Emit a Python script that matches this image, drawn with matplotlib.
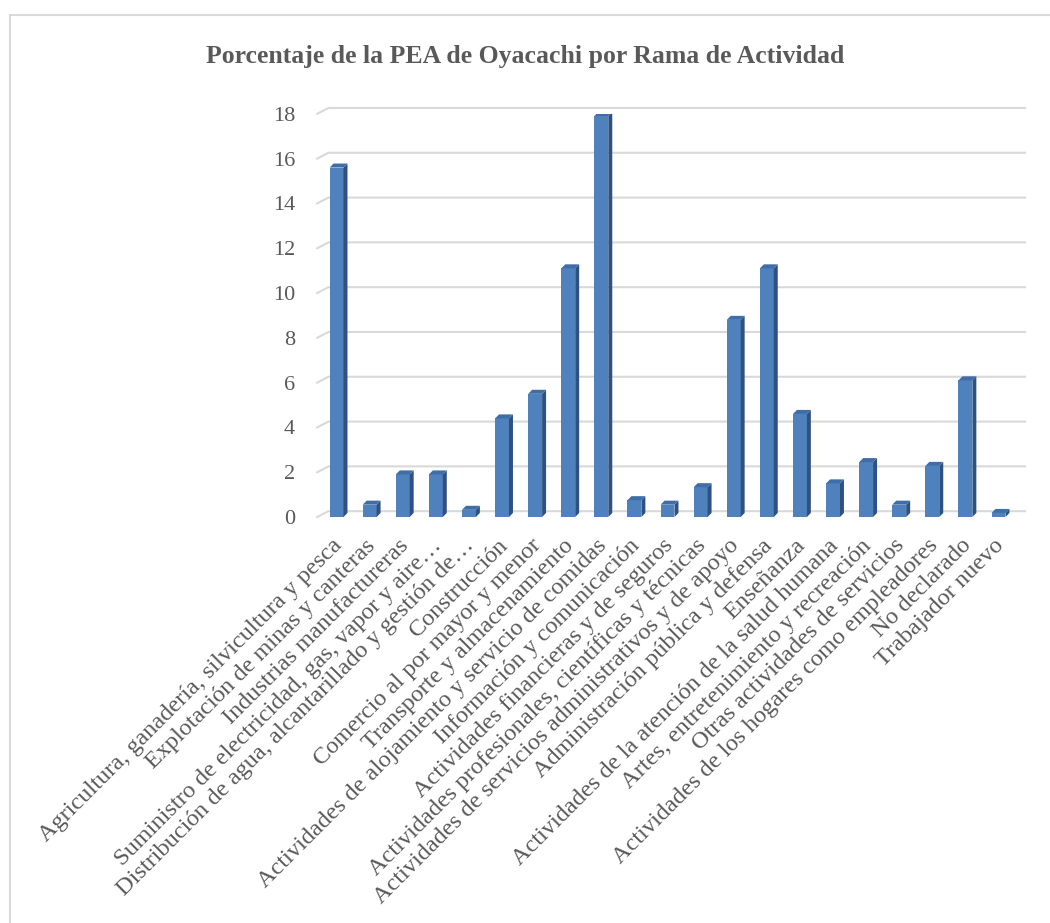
import matplotlib
matplotlib.use("Agg")
import matplotlib.pyplot as plt
import matplotlib.transforms as mtransforms
from matplotlib.patches import Polygon, Rectangle

plt.rcParams['font.family'] = ['Liberation Serif', 'DejaVu Serif']

ramas = ["Agricultura, ganadería, silvicultura y pesca",
         "Explotación de minas y canteras",
         "Industrias manufactureras",
         "Suministro de electricidad, gas, vapor y aire…",
         "Distribución de agua, alcantarillado y gestión de…",
         "Construcción",
         "Comercio al por mayor y menor",
         "Transporte y almacenamiento",
         "Actividades de alojamiento y servicio de comidas",
         "Información y comunicación",
         "Actividades financieras y de seguros",
         "Actividades profesionales, científicas y técnicas",
         "Actividades de servicios administrativos y de apoyo",
         "Administración pública y defensa",
         "Enseñanza",
         "Actividades de la atención de la salud humana",
         "Artes, entretenimiento y recreación",
         "Otras actividades de servicios",
         "Actividades de los hogares como empleadores",
         "No declarado",
         "Trabajador nuevo"]
porcentaje = [15.6, 0.55, 1.9, 1.9, 0.32, 4.4, 5.5, 11.1, 17.9, 0.75, 0.55,
              1.33, 8.8, 11.1, 4.6, 1.5, 2.45, 0.55, 2.28, 6.1, 0.18]
yticks = list(range(0, 19, 2))

gris = '#595959'
frente = '#4F81BD'
lado = '#2E5180'
tapa = '#3F6DA6'

fig = plt.figure(figsize=(10.5, 9.23), dpi=100)
fig.patches.append(Rectangle((10/1050, -0.05), 1.1, 1 - 15/923 + 0.05,
                             transform=fig.transFigure, fill=False,
                             edgecolor='#D9D9D9', linewidth=1.5))
ax = fig.add_axes([320/1050, 1 - 517/923, 705/1050, (517 - 113.8)/923])

x = list(range(len(ramas)))
w = 0.42
dx = 0.12
dy = 0.18
ax.bar(x, porcentaje, width=w, color=frente, zorder=3)
for xi, h in zip(x, porcentaje):
    l, r = xi - w/2, xi + w/2
    ax.add_patch(Polygon([(r, 0), (r + dx, dy), (r + dx, h + dy), (r, h)],
                         closed=True, facecolor=lado, edgecolor='none', zorder=3))
    ax.add_patch(Polygon([(l, h), (r, h), (r + dx, h + dy), (l + dx, h + dy)],
                         closed=True, facecolor=tapa, edgecolor='none', zorder=3))

# lineas de la pared del fondo
tr = ax.get_yaxis_transform()
for v in yticks:
    ax.plot([-0.004, 0.012, 1.0], [v, v + 0.26, v + 0.26], transform=tr,
            color='#D9D9D9', linewidth=1.5, clip_on=False, zorder=1)

ax.set_xlim(-0.5, 20.8)
ax.set_ylim(0, 18)
ax.set_yticks(yticks)
ax.set_xticks(x)
ax.set_xticklabels(ramas, rotation=45, ha='right', rotation_mode='anchor')
ax.tick_params(axis='y', length=0, pad=18, labelsize=16, labelcolor=gris)
ax.tick_params(axis='x', length=0, pad=13, labelsize=17.5, labelcolor=gris)
desplaza = mtransforms.ScaledTranslation(-5/100, 0, fig.dpi_scale_trans)
for lab in ax.get_xticklabels():
    lab.set_transform(lab.get_transform() + desplaza)
for s in ax.spines.values():
    s.set_visible(False)
ax.patch.set_visible(False)

fig.text(525/1050, 1 - 56/923, "Porcentaje de la PEA de Oyacachi por Rama de Actividad",
         ha='center', va='center', fontsize=18.5, fontweight='bold', color=gris)

fig.savefig("out.png", dpi=100)
